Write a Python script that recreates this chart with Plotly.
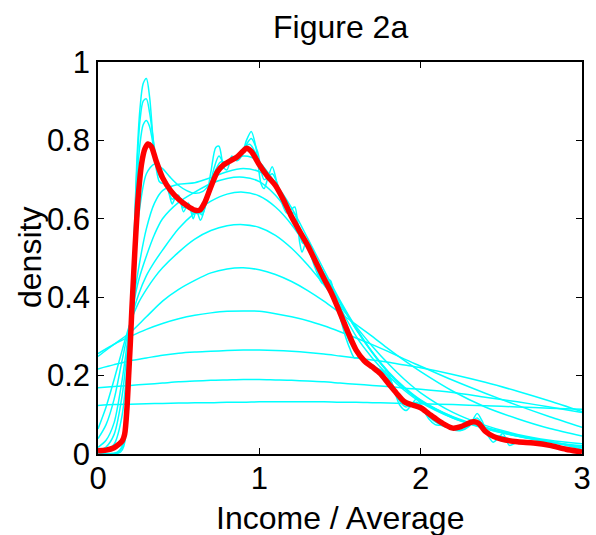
import plotly.graph_objects as go

# ---- kernel density estimates of income / average, a family of bandwidths ----
grid = [0, 0.1, 0.2, 0.3, 0.4, 0.5, 0.6, 0.7, 0.8, 0.9, 1.0, 1.1, 1.2, 1.3, 1.4,
        1.5, 1.6, 1.7, 1.8, 1.9, 2.0, 2.2, 2.4, 2.6, 2.8, 3.0]

h1 = [0.124, 0.126, 0.127, 0.128, 0.129, 0.130, 0.131, 0.131, 0.132, 0.132, 0.133, 0.133, 0.133,
      0.133, 0.133, 0.132, 0.132, 0.131, 0.130, 0.129, 0.128, 0.126, 0.123, 0.120, 0.117, 0.114]
h2 = [0.169, 0.172, 0.175, 0.178, 0.181, 0.184, 0.186, 0.188, 0.189, 0.190, 0.190, 0.189, 0.188,
      0.186, 0.184, 0.181, 0.178, 0.175, 0.172, 0.168, 0.165, 0.157, 0.145, 0.133, 0.120, 0.106]
h3 = [0.217, 0.228, 0.238, 0.245, 0.252, 0.257, 0.260, 0.262, 0.264, 0.265, 0.265, 0.264, 0.262,
      0.259, 0.255, 0.250, 0.245, 0.240, 0.234, 0.227, 0.220, 0.203, 0.183, 0.160, 0.135, 0.108]
h4 = [0.256, 0.280, 0.300, 0.318, 0.333, 0.345, 0.354, 0.360, 0.364, 0.365, 0.364, 0.358, 0.350,
      0.340, 0.327, 0.312, 0.296, 0.279, 0.261, 0.242, 0.224, 0.188, 0.155, 0.124, 0.095, 0.068]
h5 = [0.249, 0.280, 0.310, 0.350, 0.390, 0.420, 0.443, 0.462, 0.472, 0.475, 0.470, 0.458, 0.440,
      0.417, 0.390, 0.360, 0.330, 0.300, 0.268, 0.238, 0.210, 0.160, 0.120, 0.090, 0.065, 0.046]

grid_fine = [0, 0.05, 0.1, 0.15, 0.2, 0.25, 0.3, 0.35, 0.4, 0.5, 0.6, 0.7, 0.8, 0.9, 1.0, 1.1,
             1.2, 1.3, 1.4, 1.5, 1.6, 1.7, 1.8, 1.9, 2.0, 2.2, 2.4, 2.6, 2.8, 3.0]
h6 = [0.064, 0.120, 0.190, 0.265, 0.335, 0.385, 0.420, 0.450, 0.475, 0.515, 0.548, 0.570, 0.582,
      0.585, 0.578, 0.558, 0.525, 0.482, 0.432, 0.378, 0.325, 0.275, 0.230, 0.190, 0.156, 0.106,
      0.073, 0.050, 0.035, 0.026]
h7 = [0.039, 0.075, 0.140, 0.240, 0.335, 0.405, 0.455, 0.490, 0.520, 0.575, 0.615, 0.645, 0.663,
      0.668, 0.658, 0.630, 0.585, 0.525, 0.455, 0.385, 0.318, 0.260, 0.210, 0.170, 0.138, 0.094,
      0.065, 0.045, 0.030, 0.021]
h8 = [0.017, 0.035, 0.080, 0.190, 0.335, 0.440, 0.505, 0.560, 0.600, 0.642, 0.668, 0.690, 0.703,
      0.706, 0.695, 0.660, 0.605, 0.535, 0.462, 0.388, 0.318, 0.258, 0.207, 0.167, 0.135, 0.092,
      0.065, 0.046, 0.031, 0.018]
h9 = [0.008, 0.018, 0.050, 0.150, 0.335, 0.470, 0.575, 0.640, 0.672, 0.688, 0.692, 0.705, 0.720,
      0.728, 0.720, 0.688, 0.628, 0.550, 0.470, 0.392, 0.322, 0.260, 0.208, 0.167, 0.136, 0.095,
      0.068, 0.048, 0.032, 0.016]

h10_x = [0, 0.05, 0.1, 0.15, 0.2, 0.25, 0.3, 0.35, 0.4, 0.45, 0.5, 0.55, 0.6, 0.65, 0.7, 0.75,
         0.8, 0.85, 0.9, 0.95, 1.0, 1.05, 1.1, 1.15, 1.2, 1.3, 1.4, 1.5, 1.6, 1.7, 1.8, 1.9, 2.0,
         2.2, 2.4, 2.6, 2.8, 3.0]
h10 = [0.004, 0.008, 0.025, 0.100, 0.330, 0.600, 0.715, 0.740, 0.728, 0.705, 0.685, 0.672, 0.665,
       0.670, 0.692, 0.720, 0.740, 0.752, 0.760, 0.757, 0.745, 0.720, 0.690, 0.655, 0.615, 0.535,
       0.455, 0.375, 0.300, 0.245, 0.200, 0.162, 0.132, 0.092, 0.067, 0.046, 0.031, 0.012]

# small bandwidths: spiky estimates
h11_x = [0.00, 0.12, 0.16, 0.18, 0.20, 0.22, 0.24, 0.26, 0.28, 0.30, 0.32, 0.35, 0.38, 0.42, 0.46,
         0.50, 0.55, 0.60, 0.64, 0.68, 0.72, 0.76, 0.80, 0.85, 0.90, 0.94, 0.98, 1.03, 1.08, 1.13,
         1.18, 1.22, 1.27, 1.32, 1.37, 1.42, 1.47, 1.52, 1.58, 1.64, 1.72, 1.79, 1.86, 1.92, 1.98,
         2.05, 2.12, 2.20, 2.28, 2.35, 2.42, 2.50, 2.60, 2.80, 3.00]
h11 = [0.002, 0.005, 0.030, 0.100, 0.270, 0.490, 0.680, 0.790, 0.840, 0.851, 0.835, 0.770, 0.720,
       0.690, 0.662, 0.655, 0.635, 0.615, 0.615, 0.650, 0.715, 0.745, 0.745, 0.755, 0.780, 0.790,
       0.765, 0.715, 0.700, 0.660, 0.615, 0.595, 0.550, 0.515, 0.460, 0.425, 0.390, 0.330, 0.275,
       0.243, 0.222, 0.200, 0.145, 0.123, 0.125, 0.100, 0.078, 0.066, 0.068, 0.082, 0.055, 0.040,
       0.031, 0.023, 0.007]

h12_x = [0.00, 0.12, 0.16, 0.18, 0.20, 0.22, 0.24, 0.26, 0.28, 0.30, 0.32, 0.35, 0.38, 0.42, 0.46,
         0.49, 0.53, 0.56, 0.59, 0.62, 0.645, 0.68, 0.72, 0.75, 0.79, 0.83, 0.87, 0.92, 0.95, 0.99,
         1.03, 1.08, 1.12, 1.17, 1.22, 1.265, 1.30, 1.35, 1.39, 1.44, 1.50, 1.56, 1.62, 1.70, 1.79,
         1.87, 1.91, 1.975, 2.05, 2.12, 2.20, 2.26, 2.35, 2.42, 2.51, 2.60, 2.80, 3.00]
h12 = [0.001, 0.003, 0.025, 0.090, 0.260, 0.500, 0.720, 0.850, 0.900, 0.906, 0.870, 0.780, 0.710,
       0.690, 0.650, 0.660, 0.628, 0.638, 0.612, 0.620, 0.610, 0.655, 0.730, 0.760, 0.735, 0.755,
       0.755, 0.790, 0.805, 0.770, 0.700, 0.715, 0.680, 0.625, 0.612, 0.540, 0.530, 0.480, 0.440,
       0.430, 0.355, 0.285, 0.250, 0.224, 0.205, 0.135, 0.120, 0.132, 0.095, 0.075, 0.064, 0.062,
       0.092, 0.050, 0.044, 0.030, 0.022, 0.006]

h13_x = [0.00, 0.10, 0.14, 0.16, 0.18, 0.20, 0.22, 0.24, 0.26, 0.28, 0.30, 0.32, 0.34, 0.36, 0.38,
         0.40, 0.42, 0.44, 0.46, 0.48, 0.50, 0.53, 0.56, 0.59, 0.61, 0.635, 0.66, 0.70, 0.73, 0.75,
         0.78, 0.80, 0.83, 0.86, 0.89, 0.92, 0.95, 0.98, 1.01, 1.03, 1.05, 1.08, 1.11, 1.14, 1.17,
         1.20, 1.22, 1.25, 1.265, 1.29, 1.32, 1.35, 1.39, 1.41, 1.44, 1.47, 1.50, 1.53, 1.56, 1.59,
         1.62, 1.65, 1.70, 1.75, 1.79, 1.83, 1.87, 1.91, 1.95, 1.975, 2.00, 2.05, 2.09, 2.12, 2.16,
         2.20, 2.25, 2.30, 2.35, 2.38, 2.42, 2.45, 2.48, 2.51, 2.55, 2.60, 2.70, 2.80, 2.90, 3.00]
h13 = [0.000, 0.000, 0.005, 0.020, 0.080, 0.250, 0.500, 0.740, 0.880, 0.945, 0.958, 0.910, 0.810,
       0.730, 0.695, 0.690, 0.692, 0.665, 0.638, 0.655, 0.660, 0.618, 0.640, 0.600, 0.622, 0.596,
       0.625, 0.720, 0.782, 0.785, 0.730, 0.725, 0.760, 0.748, 0.760, 0.800, 0.823, 0.780, 0.690,
       0.677, 0.700, 0.733, 0.690, 0.640, 0.615, 0.625, 0.630, 0.540, 0.515, 0.540, 0.505, 0.470,
       0.435, 0.445, 0.443, 0.395, 0.350, 0.305, 0.270, 0.245, 0.247, 0.235, 0.226, 0.205, 0.213,
       0.170, 0.125, 0.111, 0.130, 0.141, 0.125, 0.090, 0.075, 0.073, 0.070, 0.062, 0.060, 0.070,
       0.103, 0.085, 0.045, 0.030, 0.040, 0.052, 0.022, 0.030, 0.028, 0.022, 0.012, 0.005]

cyan_curves = [
    (grid, h1), (grid, h2), (grid, h3), (grid, h4), (grid, h5),
    (grid_fine, h6), (grid_fine, h7), (grid_fine, h8), (grid_fine, h9), (h10_x, h10),
    (h11_x, h11), (h12_x, h12), (h13_x, h13),
]

# highlighted estimate
red_x = [0.00, 0.05, 0.10, 0.13, 0.15, 0.165, 0.18, 0.19, 0.20, 0.21, 0.22, 0.23, 0.24, 0.25,
         0.27, 0.29, 0.31, 0.33, 0.36, 0.40, 0.45, 0.50, 0.55, 0.60, 0.63, 0.66, 0.70, 0.74, 0.78,
         0.82, 0.86, 0.90, 0.92, 0.95, 0.98, 1.00, 1.05, 1.10, 1.15, 1.20, 1.25, 1.30, 1.35, 1.40,
         1.45, 1.50, 1.55, 1.60, 1.65, 1.70, 1.75, 1.80, 1.85, 1.90, 1.95, 2.00, 2.05, 2.10, 2.15,
         2.20, 2.25, 2.30, 2.33, 2.36, 2.40, 2.45, 2.50, 2.60, 2.70, 2.80, 2.90, 3.00]
red_y = [0.008, 0.010, 0.016, 0.025, 0.033, 0.050, 0.120, 0.200, 0.280, 0.370, 0.450, 0.530, 0.600,
         0.660, 0.740, 0.778, 0.791, 0.785, 0.748, 0.705, 0.672, 0.650, 0.634, 0.622, 0.622, 0.640,
         0.682, 0.720, 0.738, 0.748, 0.757, 0.773, 0.780, 0.772, 0.752, 0.738, 0.709, 0.685, 0.648,
         0.605, 0.568, 0.532, 0.490, 0.448, 0.408, 0.360, 0.310, 0.265, 0.238, 0.222, 0.205, 0.180,
         0.155, 0.133, 0.125, 0.118, 0.103, 0.088, 0.075, 0.066, 0.070, 0.079, 0.082, 0.078, 0.058,
         0.045, 0.038, 0.031, 0.028, 0.022, 0.012, 0.005]

x_ticks = [0, 1, 2, 3]
y_ticks = [0, 0.2, 0.4, 0.6, 0.8, 1]
y_tick_text = ["0", "0.2", "0.4", "0.6", "0.8", "1"]

FONT = "Liberation Sans, Arial, sans-serif"

fig = go.Figure()
for xs, ys in cyan_curves:
    fig.add_trace(go.Scatter(x=xs, y=ys, mode="lines",
                             line=dict(color="#00ffff", width=1.5, shape="spline", smoothing=0.8),
                             showlegend=False, hoverinfo="skip"))
fig.add_trace(go.Scatter(x=red_x, y=red_y, mode="lines",
                         line=dict(color="#ff0000", width=5.5, shape="spline", smoothing=0.8),
                         showlegend=False, hoverinfo="skip"))

axis_common = dict(
    showline=True, linecolor="black", linewidth=1.5, mirror="allticks",
    ticks="inside", ticklen=6, tickwidth=1.2, tickcolor="black",
    showgrid=False, zeroline=False,
    tickfont=dict(family=FONT, size=31, color="black"),
)

fig.update_layout(
    width=596, height=535,
    margin=dict(l=98, r=14, t=62, b=81, autoexpand=False),
    paper_bgcolor="white", plot_bgcolor="white",
    xaxis=dict(range=[0, 3], tickvals=x_ticks, ticklabelstandoff=-4, automargin=False,
               **axis_common),
    yaxis=dict(range=[0, 1], tickvals=y_ticks, ticktext=y_tick_text,
               ticklabelstandoff=0, automargin=False, **axis_common),
    annotations=[
        dict(text="Figure 2a", xref="paper", yref="paper", x=0.5, y=1,
             xanchor="center", yanchor="middle", yshift=35, showarrow=False,
             font=dict(family=FONT, size=32, color="black")),
        dict(text="Income / Average", xref="paper", yref="paper", x=0.5, y=0,
             xanchor="center", yanchor="middle", yshift=-64, showarrow=False,
             font=dict(family=FONT, size=32, color="black")),
        dict(text="density", xref="paper", yref="paper", x=0, y=0.5, textangle=-90,
             xanchor="center", yanchor="middle", xshift=-68, showarrow=False,
             font=dict(family=FONT, size=32, color="black")),
    ],
)

fig.write_html("out.html")
